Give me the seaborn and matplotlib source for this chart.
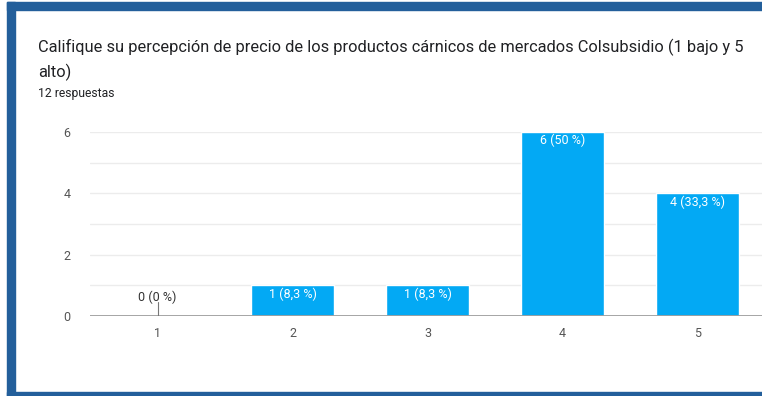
import matplotlib
matplotlib.use("Agg")
import matplotlib.pyplot as plt
import seaborn as sns
import pandas as pd
from matplotlib.patches import Rectangle

categories = ["1", "2", "3", "4", "5"]
counts = [0, 1, 1, 6, 4]
labels = ["0 (0 %)", "1 (8,3 %)", "1 (8,3 %)", "6 (50 %)", "4 (33,3 %)"]
yticks = [0, 2, 4, 6]
title_lines = ["Califique su percepción de precio de los productos cárnicos de mercados Colsubsidio (1 bajo y 5",
               "alto)"]
subtitle = "12 respuestas"

sns.set_theme(style="white")
plt.rcParams['font.family'] = ['Roboto', 'DejaVu Sans']

W, H = 762, 396
fig = plt.figure(figsize=(W / 100, H / 100), dpi=100)
fig.patch.set_facecolor("white")

# frame
border = "#235f9b"
fig.patches.append(Rectangle((7 / W, 0), 8 / W, 1 - 2 / H, transform=fig.transFigure, color=border, zorder=0))
fig.patches.append(Rectangle((7 / W, 1 - 10 / H), 1, 8 / H, transform=fig.transFigure, color=border, zorder=0))
fig.patches.append(Rectangle((7 / W, 0), 1, 4 / H, transform=fig.transFigure, color=border, zorder=0))

ax_left, ax_right = 90, 765
ax_top, ax_bottom = 132, 316
ax = fig.add_axes([ax_left / W, 1 - ax_bottom / H, (ax_right - ax_left) / W, (ax_bottom - ax_top) / H])
ax.set_facecolor("none")

df = pd.DataFrame({"cat": categories, "n": counts})
sns.barplot(data=df, x="cat", y="n", color="#03a9f4", saturation=1, width=0.62, ax=ax, zorder=3)

ax.set_xlim(-0.5, 4.5)
ax.set_ylim(0, 6)
for y in range(1, 7):
    ax.axhline(y, color="#ececec", lw=1, zorder=1)
ax.axhline(0, color="#9e9e9e", lw=1.3, zorder=4)

for s in ax.spines.values():
    s.set_visible(False)

ax.set_yticks(yticks)
ax.set_yticklabels([str(v) for v in yticks])
ax.tick_params(axis="y", length=0, pad=14, labelsize=9, labelcolor="#555555")
ax.tick_params(axis="x", length=0, pad=8, labelsize=9, labelcolor="#555555")
ax.set_xlabel("")
ax.set_ylabel("")

for i, (c, lab) in enumerate(zip(counts, labels)):
    if c == 0:
        ax.plot([i, i], [0, 0.45], color="#777777", lw=0.8, zorder=4)
        ax.text(i, 0.6, lab, ha="center", va="center", fontsize=9, color="#333333", zorder=5)
    else:
        ax.text(i, c - 0.28, lab, ha="center", va="center", fontsize=9, color="white", zorder=5)

fig.text(38 / W, 1 - 47 / H, title_lines[0], ha="left", va="center", fontsize=11.8, color="#202124")
fig.text(38 / W, 1 - 72 / H, title_lines[1], ha="left", va="center", fontsize=11.8, color="#202124")
fig.text(38 / W, 1 - 93 / H, subtitle, ha="left", va="center", fontsize=8.7, color="#202124")

fig.savefig("out.png", dpi=100)
